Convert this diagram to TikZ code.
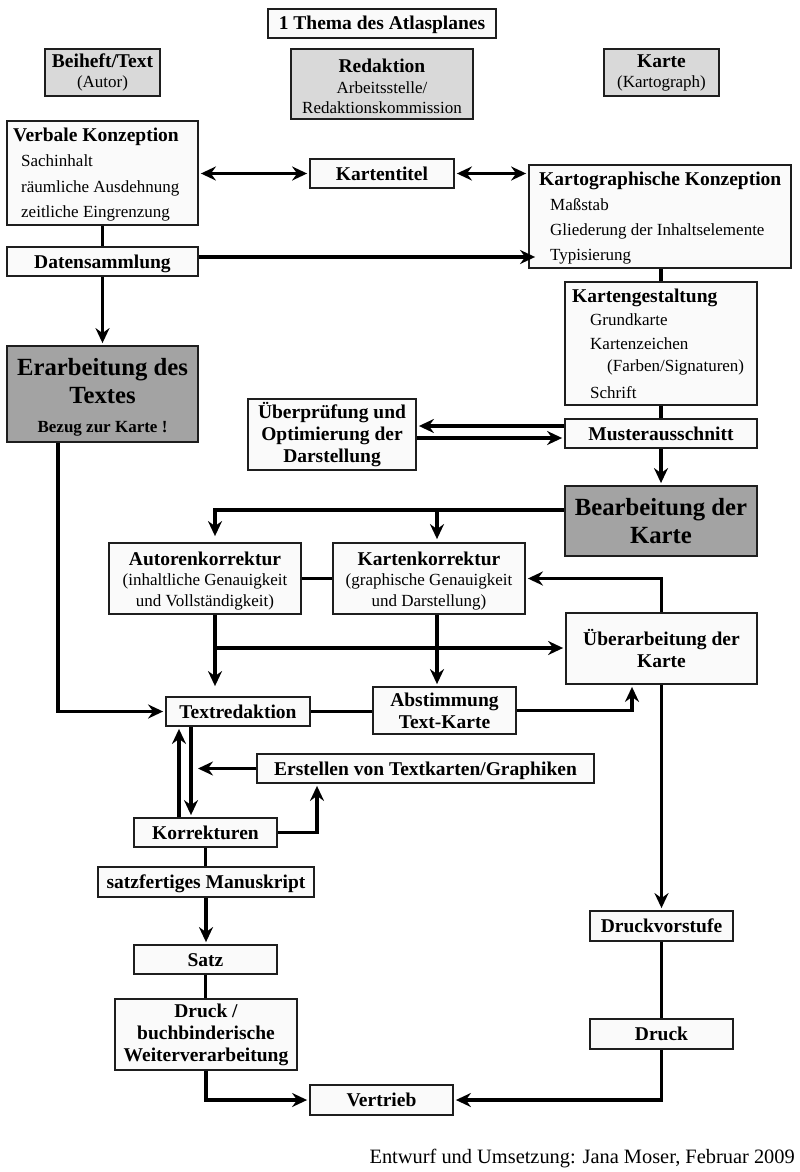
\documentclass[tikz,border=0pt]{standalone}
\usepackage{fontspec}
\setmainfont{Liberation Serif}
\usetikzlibrary{arrows.meta}
\pgfdeclarelayer{bg}
\pgfsetlayers{bg,main}
\definecolor{boxfill}{HTML}{FAFAFA}
\definecolor{hdrgray}{HTML}{D9D9D9}
\definecolor{darkbox}{HTML}{A3A3A3}
\definecolor{lanegray}{HTML}{999999}
\definecolor{edgecol}{HTML}{1E1E1E}
\newcommand\bfs{\fontsize{19.5}{22}\selectfont\bfseries}
\newcommand\rgs{\fontsize{17}{21}\selectfont}
\newcommand\bigs{\fontsize{24.7}{28}\selectfont\bfseries}
\tikzset{
  box/.style={draw=edgecol, line width=1.8pt, fill=boxfill, inner sep=0pt, align=center},
  one/.style={box, font=\bfs, text height=14pt, text depth=1pt},
  hdr/.style={box, fill=hdrgray},
  dark/.style={box, fill=darkbox},
  conn/.style={line width=3.4pt, draw=black},
  tip/.tip={Stealth[length=15pt,width=14pt,inset=5pt]},
  arr/.style={conn, -tip, shorten >=2pt},
  darr/.style={conn, tip-tip, shorten >=2pt, shorten <=2pt},
  lane/.style={draw=lanegray, line width=1.4pt},
  txt/.style={inner sep=0pt, anchor=base west},
  ctxt/.style={inner sep=0pt, anchor=base},
}
\begin{document}
\begin{tikzpicture}[x=1pt,y=-1pt]
\useasboundingbox (0,0) rectangle (800,1172);
\fill[white] (0,0) rectangle (800,1172);

% header boxes
\node[one, minimum width=228pt, minimum height=29pt] (thema) at (382,23.5) {1 Thema des Atlasplanes};
\node[hdr, minimum width=115pt, minimum height=47pt] (beiheft) at (102.5,72.5) {};
\node[ctxt, font=\bfs] (beiheftt) at (102.5,67) {Beiheft/Text};
\node[ctxt, font=\rgs] (beiheft1) at (102.5,87) {(Autor)};
\node[hdr, minimum width=182pt, minimum height=70pt] (redaktion) at (382,84) {};
\node[ctxt, font=\bfs] (redt) at (382,72.5) {Redaktion};
\node[ctxt, font=\rgs] (red1) at (382,93) {Arbeitsstelle/};
\node[ctxt, font=\rgs] (red2) at (382,113.5) {Redaktionskommission};
\node[hdr, minimum width=115pt, minimum height=47pt] (karte) at (661.5,72.5) {};
\node[ctxt, font=\bfs] (kartet) at (661.5,67) {Karte};
\node[ctxt, font=\rgs] (karte1) at (661.5,87) {(Kartograph)};

% lanes
\begin{pgfonlayer}{bg}
\draw[lane] (275,38) -- (275,1115);
\draw[lane] (490,38) -- (490,1115);
\end{pgfonlayer}

% left column
\node[box, minimum width=191pt, minimum height=104pt] (verbale) at (102.5,173) {};
\node[txt, font=\bfs] (verbalet) at (13,141.5) {Verbale Konzeption};
\node[txt, font=\rgs] (verbale1) at (21,166) {Sachinhalt};
\node[txt, font=\rgs] (verbale2) at (21,192) {räumliche Ausdehnung};
\node[txt, font=\rgs] (verbale3) at (21,217.5) {zeitliche Eingrenzung};
\node[one, minimum width=191pt, minimum height=29pt] (daten) at (102.5,261.5) {Datensammlung};
\node[dark, minimum width=191pt, minimum height=96pt] (erarb) at (102.5,394) {};
\node[ctxt, font=\bigs] (erarb1) at (102.5,375) {Erarbeitung des};
\node[ctxt, font=\bigs] (erarb2) at (102.5,403) {Textes};
\node[ctxt, font=\fontsize{17}{20}\selectfont\bfseries] (erarb3) at (102.5,432) {Bezug zur Karte !};

% middle
\node[one, minimum width=144pt, minimum height=29pt] (kartentitel) at (382,173.5) {Kartentitel};
\node[box, font=\bfs, minimum width=168pt, minimum height=71pt] (uebpr) at (332,434.5) {Überprüfung und\\Optimierung der\\Darstellung};

% right column
\node[box, minimum width=262pt, minimum height=103pt] (kk) at (660,216.5) {};
\node[txt, font=\bfs] (kkt) at (539,185) {Kartographische Konzeption};
\node[txt, font=\rgs] (kk1) at (550,210.5) {Maßstab};
\node[txt, font=\rgs] (kk2) at (550,235.5) {Gliederung der Inhaltselemente};
\node[txt, font=\rgs] (kk3) at (550,260.5) {Typisierung};
\node[box, minimum width=192pt, minimum height=123pt] (gestalt) at (661,343.5) {};
\node[txt, font=\bfs] (gestaltt) at (572,302.5) {Kartengestaltung};
\node[txt, font=\rgs] (gestalt1) at (590,325.5) {Grundkarte};
\node[txt, font=\rgs] (gestalt2) at (590,349.5) {Kartenzeichen};
\node[txt, font=\rgs] (gestalt3) at (607,371) {(Farben/Signaturen)};
\node[txt, font=\rgs] (gestalt4) at (590,398.5) {Schrift};
\node[one, minimum width=192pt, minimum height=29pt] (muster) at (661,433.5) {Musterausschnitt};
\node[dark, minimum width=192pt, minimum height=70pt] (bearb) at (661,521) {};
\node[ctxt, font=\bigs] (bearb1) at (661,515) {Bearbeitung der};
\node[ctxt, font=\bigs] (bearb2) at (661,543) {Karte};

% corrections
\node[box, minimum width=192pt, minimum height=71pt] (autor) at (205,578.5) {};
\node[ctxt, font=\bfs] (autort) at (205,565) {Autorenkorrektur};
\node[ctxt, font=\rgs] (autor1) at (205,585.5) {(inhaltliche Genauigkeit};
\node[ctxt, font=\rgs] (autor2) at (205,606) {und Vollständigkeit)};
\node[box, minimum width=192pt, minimum height=71pt] (kkorr) at (429,578.5) {};
\node[ctxt, font=\bfs] (kkorrt) at (429,565) {Kartenkorrektur};
\node[ctxt, font=\rgs] (kkorr1) at (429,585.5) {(graphische Genauigkeit};
\node[ctxt, font=\rgs] (kkorr2) at (429,606) {und Darstellung)};
\node[box, font=\bfs, minimum width=191pt, minimum height=71pt] (ueberarb) at (661.5,648.5) {Überarbeitung der\\Karte};

\node[one, minimum width=144pt, minimum height=29pt] (textred) at (238,711.5) {Textredaktion};
\node[box, font=\bfs, minimum width=143pt, minimum height=47pt] (abst) at (444.5,710.5) {Abstimmung\\Text-Karte};
\node[one, minimum width=337pt, minimum height=29pt] (erstellen) at (425.5,768.5) {Erstellen von Textkarten/Graphiken};
\node[one, minimum width=143pt, minimum height=29pt] (korr) at (205.5,832.5) {Korrekturen};
\node[one, minimum width=216pt, minimum height=30pt] (satzf) at (206,882) {satzfertiges Manuskript};
\node[one, minimum width=143pt, minimum height=29pt] (satz) at (205.5,959.5) {Satz};
\node[box, font=\bfs, minimum width=182pt, minimum height=71pt] (druckbuch) at (206,1034.5) {Druck /\\buchbinderische\\Weiterverarbeitung};
\node[one, minimum width=143pt, minimum height=30pt] (vertrieb) at (381.5,1100) {Vertrieb};
\node[one, minimum width=143pt, minimum height=30pt] (druckv) at (661.5,926) {Druckvorstufe};
\node[one, minimum width=143pt, minimum height=30pt] (druck) at (661.5,1034) {Druck};

\node[anchor=base east, inner sep=0pt, font=\fontsize{20.4}{24}\selectfont] (footer) at (795,1163) {Entwurf und Umsetzung: Jana Moser, Februar 2009};

% helper coordinates
\coordinate (b1) at (215,510);
\coordinate (b2) at (437,510);
\coordinate (a1) at (215,648);
\coordinate (e1) at (58,0);
\coordinate (u1) at (632,0);
\coordinate (t1) at (198,768.5);
\coordinate (k1) at (191,0);
\coordinate (k2) at (179,0);
\coordinate (k3) at (317,0);

% connectors
\draw[darr] (verbale.east |- kartentitel.west) -- (kartentitel.west);
\draw[darr] (kartentitel.east) -- (kartentitel.east -| kk.west);
\draw[conn] (verbale.south) -- (daten.north);
\draw[arr, shorten >=-7pt] ([yshift=4.5pt]daten.east) -- ([yshift=4.5pt]daten.east -| kk.west);
\draw[arr] (daten.south) -- (erarb.north);
\draw[conn] (kk.south -| gestalt.north) -- (gestalt.north);
\draw[conn] (gestalt.south) -- (muster.north);
\draw[arr] ([yshift=7.5pt]muster.west) -- ([yshift=7.5pt]muster.west -| uebpr.east);
\draw[arr] ([yshift=-4.5pt]muster.west -| uebpr.east) -- ([yshift=-4.5pt]muster.west);
\draw[arr] (muster.south) -- (bearb.north);
\draw[arr, shorten >=6pt] (bearb.west |- b1) -- (b1) -- (b1 |- autor.north);
\draw[arr, shorten >=3pt] (b2) -- (b2 |- kkorr.north);
\draw[conn] (autor.east) -- (kkorr.west);
\draw[arr] (ueberarb.north) |- (kkorr.east);
\draw[arr, shorten >=10pt] (autor.south -| b1) -- (b1 |- textred.north);
\draw[arr] (a1) -- (a1 -| ueberarb.west);
\draw[arr] (kkorr.south -| b2) -- (b2 |- abst.north);
\draw[arr] (erarb.south -| e1) |- (textred.west);
\draw[conn] (textred.east) -- (abst.west |- textred.east);
\draw[arr] (abst.east) -| (ueberarb.south -| u1);
\draw[arr, shorten >=0pt] (erstellen.west) -- (t1);
\draw[arr] (textred.south -| k1) -- (korr.north -| k1);
\draw[arr] (korr.north -| k2) -- (textred.south -| k2);
\draw[arr] (korr.east) -| (erstellen.south -| k3);
\draw[conn] (korr.south) -- (korr.south |- satzf.north);
\draw[arr] (satzf.south) -- (satzf.south |- satz.north);
\draw[conn] (satz.south) -- (satz.south |- druckbuch.north);
\draw[arr] (druckbuch.south) |- (vertrieb.west);
\draw[arr] (ueberarb.south) -- (ueberarb.south |- druckv.north);
\draw[conn] (druckv.south) -- (druck.north);
\draw[arr] (druck.south) |- (vertrieb.east);
\end{tikzpicture}
\end{document}
